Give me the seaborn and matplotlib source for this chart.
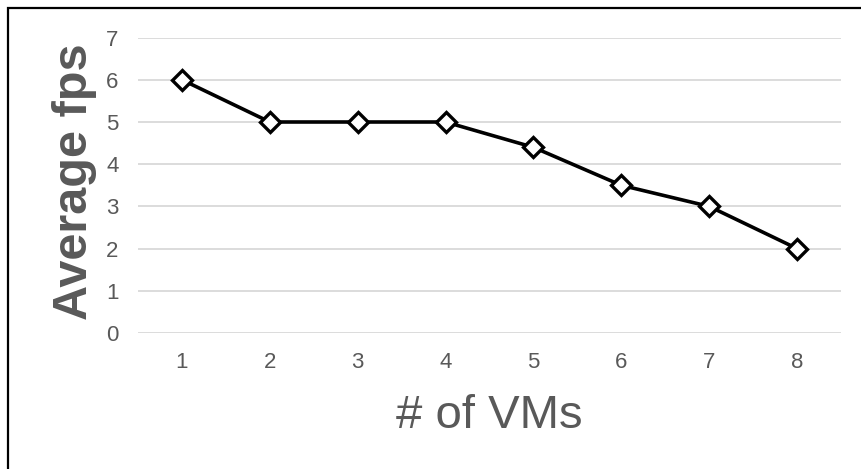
import matplotlib
matplotlib.use("Agg")
import matplotlib.pyplot as plt
import seaborn as sns
import pandas as pd
from matplotlib.patches import Rectangle

vms = [1, 2, 3, 4, 5, 6, 7, 8]
fps = [6, 5, 5, 5, 4.4, 3.5, 3, 2]
y_ticks = [0, 1, 2, 3, 4, 5, 6, 7]
x_label = "# of VMs"
y_label = "Average fps"

sns.set_theme(style="white")
plt.rcParams['font.family'] = ['Liberation Sans', 'DejaVu Sans']

W, H = 862, 469
fig = plt.figure(figsize=(W / 100, H / 100), dpi=100)
ax = fig.add_axes([138 / W, 1 - 333 / H, (841 - 138) / W, (333 - 37.6) / H])

df = pd.DataFrame({"vms": vms, "fps": fps})
sns.lineplot(data=df, x="vms", y="fps", ax=ax, color="black", linewidth=2.6,
             marker="D", markersize=10, markerfacecolor="white",
             markeredgecolor="black", markeredgewidth=2.4, zorder=3)

ax.set_xlim(0.5, 8.5)
ax.set_ylim(0, 7)
ax.set_xticks(vms)
ax.set_xticklabels([str(v) for v in vms])
ax.set_yticks(y_ticks)
ax.set_yticklabels([str(v) for v in y_ticks])
ax.yaxis.grid(True, color="#d9d9d9", linewidth=1.3)
ax.xaxis.grid(False)
for s in ax.spines.values():
    s.set_visible(False)
ax.tick_params(axis="both", length=0, labelsize=16, labelcolor="#595959")
ax.tick_params(axis="y", pad=14)
ax.tick_params(axis="x", pad=14)
ax.set_xlabel("")
ax.set_ylabel("")

fig.text(489.5 / W, 1 - 428 / H, x_label, fontsize=34, color="#595959",
         ha="center", va="baseline")
fig.text(87 / W, 1 - 182 / H, y_label, fontsize=35, fontweight="bold",
         color="#595959", rotation=90, rotation_mode="anchor",
         ha="center", va="baseline")

fig.patches.append(Rectangle((8 / W, -0.1), 1.2, 1 - 8 / H + 0.1,
                             transform=fig.transFigure, fill=False,
                             edgecolor="black", linewidth=1.6, zorder=10))

fig.savefig("out.png", dpi=100)
